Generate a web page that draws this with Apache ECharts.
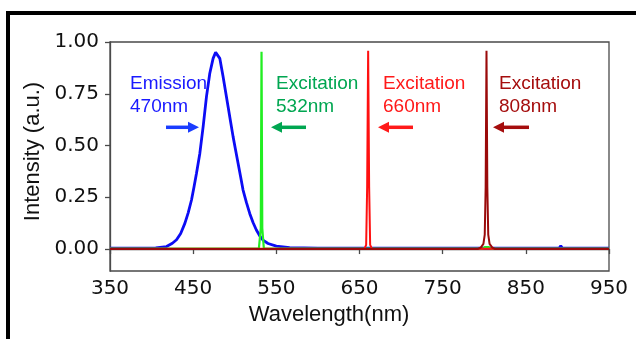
<!DOCTYPE html>
<html>
<head>
<meta charset="utf-8">
<title>Emission / Excitation</title>
<script src="https://cdn.jsdelivr.net/npm/echarts@6/dist/echarts.min.js"></script>
<style>
  html, body { margin: 0; padding: 0; background: #fff; }
  #main { width: 636px; height: 339px; }
</style>
</head>
<body>
<div id="main"></div>
<script>
// tick labels
var xTicks = [350, 450, 550, 650, 750, 850, 950];
var yTicks = [0, 0.25, 0.5, 0.75, 1.0];

// emission 470nm (blue)
var blueX = [350, 380, 405, 418, 425, 430, 435, 440, 444, 448, 451, 454, 458, 462, 466, 470, 474, 477, 479, 482,
  486, 489, 492, 495, 498, 501, 504, 507, 510, 514, 518, 522, 526, 530, 534, 540, 550, 566, 600, 700, 850, 890, 892, 894, 950];
var blueY = [0.004, 0.004, 0.006, 0.012, 0.028, 0.045, 0.075, 0.124, 0.175, 0.237, 0.3, 0.366, 0.462, 0.591, 0.736, 0.849, 0.921, 0.95, 0.953, 0.921,
  0.832, 0.76, 0.687, 0.615, 0.543, 0.478, 0.414, 0.35, 0.285, 0.225, 0.172, 0.128, 0.092, 0.064, 0.043, 0.027, 0.014, 0.007, 0.004, 0.004, 0.004, 0.004, 0.016, 0.004, 0.004];

// excitation 532nm (green)
var greenX = [350, 529, 531.3, 532.2, 533.1, 535, 798, 801, 803, 805, 808, 950];
var greenY = [0.002, 0.002, 0.1, 0.953, 0.1, 0.002, 0.002, 0.01, 0.016, 0.01, 0.002, 0.002];

// excitation 660nm (red)
var redX = [350, 656, 658, 659.2, 660.4, 661.6, 662.8, 665, 950];
var redY = [0.001, 0.001, 0.02, 0.3, 0.958, 0.3, 0.02, 0.001, 0.001];

// excitation 808nm (dark red)
var darkX = [350, 792, 796, 799, 800.6, 801.7, 802.7, 803.7, 804.8, 806.4, 809.5, 813, 950];
var darkY = [0, 0, 0.008, 0.025, 0.07, 0.3, 0.958, 0.3, 0.07, 0.025, 0.008, 0, 0];

function pairs(xs, ys) {
  return xs.map(function (x, i) { return [x, ys[i]]; });
}

var chart = echarts.init(document.getElementById('main'), null, { renderer: 'canvas' });

var axisCol = '#4a4a4a';
var tickFont = { color: '#111', fontSize: 20, fontFamily: 'DejaVu Sans' };

// arrow = shaft + head
function arrow(x1, x2, y, dir, col) {
  var tip = dir > 0 ? x2 : x1;
  var base = tip - dir * 11;
  return {
    type: 'group',
    children: [
      { type: 'line', shape: { x1: dir > 0 ? x1 : base, y1: y, x2: dir > 0 ? base : x2, y2: y },
        style: { stroke: col, lineWidth: 3.5 } },
      { type: 'polygon', shape: { points: [[base, y - 5.5], [tip, y], [base, y + 5.5]] },
        style: { fill: col } }
    ]
  };
}

function label(x, txt, col) {
  return {
    type: 'text', x: x, y: 72,
    style: { text: txt, fill: col, font: '19px "Liberation Sans", Arial, sans-serif', lineHeight: 23.5, verticalAlign: 'top' }
  };
}

var option = {
  animation: false,
  backgroundColor: '#fff',
  grid: { left: 110, right: 27, top: 42, bottom: 68, show: true, borderColor: axisCol, borderWidth: 1.3 },
  xAxis: {
    type: 'value', min: 350, max: 950,
    name: 'Wavelength(nm)', nameLocation: 'middle', nameGap: 31,
    nameTextStyle: { fontSize: 22, fontFamily: 'Liberation Sans', color: '#111', padding: [0, 61, 0, 0] },
    axisLine: { show: true, lineStyle: { color: axisCol, width: 1.3 } },
    axisTick: { show: true, length: 5, customValues: xTicks, lineStyle: { color: axisCol, width: 1.3 } },
    axisLabel: Object.assign({ customValues: xTicks, margin: 8 }, tickFont),
    splitLine: { show: false }
  },
  yAxis: {
    type: 'value', min: -0.106, max: 1.0,
    name: 'Intensity (a.u.)', nameLocation: 'middle', nameGap: 65,
    nameTextStyle: { fontSize: 22, fontFamily: 'Liberation Sans', color: '#111', padding: [0, 0, 0, 10] },
    axisLine: { show: true, lineStyle: { color: axisCol, width: 1.3 } },
    axisTick: { show: true, length: 5, customValues: yTicks, lineStyle: { color: axisCol, width: 1.3 } },
    axisLabel: Object.assign({ customValues: yTicks, margin: 11, formatter: function (v) { return v.toFixed(2); } }, tickFont),
    splitLine: { show: false }
  },
  series: [
    { type: 'line', data: pairs(blueX, blueY), showSymbol: false, lineStyle: { color: '#0c0cf5', width: 2.8 }, z: 2 },
    { type: 'line', data: pairs(greenX, greenY), showSymbol: false, lineStyle: { color: '#22ee22', width: 2.2 }, z: 3 },
    { type: 'line', data: pairs(redX, redY), showSymbol: false, lineStyle: { color: '#ff1010', width: 2 }, z: 4 },
    { type: 'line', data: pairs(darkX, darkY), showSymbol: false, lineStyle: { color: '#9a0a0a', width: 2 }, z: 5 }
  ],
  graphic: [
    // outer frame
    { type: 'polyline', shape: { points: [[8, 339], [8, 13], [636, 13]] }, style: { stroke: '#000', lineWidth: 4, fill: null } },
    label(130, 'Emission\n470nm', '#1a1aff'),
    label(276, 'Excitation\n532nm', '#00a651'),
    label(383, 'Excitation\n660nm', '#ff1a1a'),
    label(499, 'Excitation\n808nm', '#a50d0d'),
    arrow(166, 199, 127.3, 1, '#1a3cff'),
    arrow(271, 306, 127.3, -1, '#00a651'),
    arrow(378, 413, 127.3, -1, '#ff1a1a'),
    arrow(493, 529, 127.3, -1, '#a50d0d')
  ]
};

chart.setOption(option);
</script>
</body>
</html>
